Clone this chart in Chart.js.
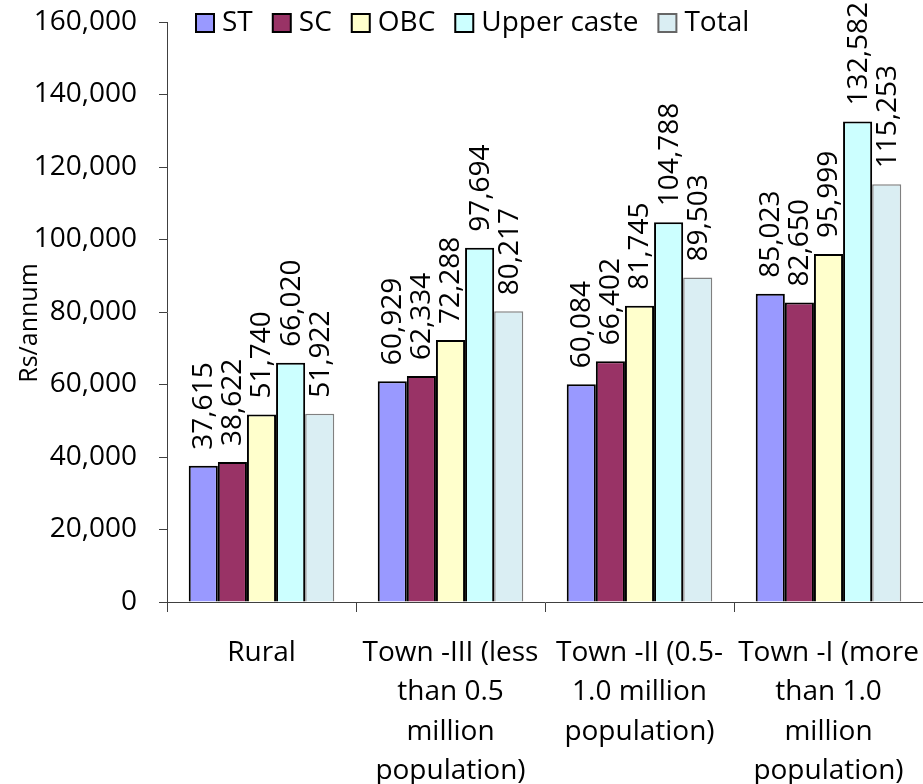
<!DOCTYPE html>
<html>
<head>
<meta charset="utf-8">
<script src="https://cdn.jsdelivr.net/npm/chart.js@4.4.1/dist/chart.umd.min.js"></script>
<style>
  body { margin: 0; background: #fff; }
  #wrap { width: 923px; height: 784px; }
</style>
</head>
<body>
<div id="wrap"><canvas id="incomeChart" width="923" height="784"></canvas></div>
<script>
var categories = [
    ['Rural'],
    ['Town -III (less', 'than 0.5', 'million', 'population)'],
    ['Town -II (0.5-', '1.0 million', 'population)'],
    ['Town -I (more', 'than 1.0', 'million', 'population)']
];
var seriesNames = ['ST', 'SC', 'OBC', 'Upper caste', 'Total'];
var stValues = [37615, 60929, 60084, 85023];
var scValues = [38622, 62334, 66402, 82650];
var obcValues = [51740, 72288, 81745, 95999];
var upperValues = [66020, 97694, 104788, 132582];
var totalValues = [51922, 80217, 89503, 115253];
var yTicks = [0, 20000, 40000, 60000, 80000, 100000, 120000, 140000, 160000];
var yTitle = 'Rs/annum';

var fills = ['#9999FF', '#993366', '#FFFFCC', '#CCFFFF', '#DAEEF3'];
var borders = ['#000000', '#000000', '#000000', '#000000', '#808080'];
var borderWidths = [2, 2, 2, 2, 1.5];
var allValues = [stValues, scValues, obcValues, upperValues, totalValues];

var FONT = 'Open Sans';

function fmt(v) { return v.toLocaleString('en-US'); }

var datasets = seriesNames.map(function (name, i) {
    return {
        label: name,
        data: allValues[i],
        backgroundColor: fills[i],
        borderColor: borders[i],
        borderWidth: borderWidths[i],
        categoryPercentage: 0.77,
        barPercentage: 1.0
    };
});

// rotated value labels above each bar
var valueLabels = {
    id: 'valueLabels',
    afterDatasetsDraw: function (chart) {
        var ctx = chart.ctx;
        ctx.save();
        ctx.font = '28px "' + FONT + '"';
        ctx.fillStyle = '#000';
        ctx.textAlign = 'left';
        ctx.textBaseline = 'middle';
        chart.data.datasets.forEach(function (ds, i) {
            chart.getDatasetMeta(i).data.forEach(function (bar, j) {
                ctx.save();
                ctx.translate(bar.x, bar.y - 16);
                ctx.rotate(-Math.PI / 2);
                ctx.fillText(fmt(ds.data[j]), 0, 1);
                ctx.restore();
            });
        });
        ctx.restore();
    }
};

// legend across the top of the plot + y axis title
var topLegend = {
    id: 'topLegend',
    afterDraw: function (chart) {
        var ctx = chart.ctx;
        ctx.save();
        ctx.font = '28px "' + FONT + '"';
        ctx.textBaseline = 'middle';
        ctx.textAlign = 'left';
        var x = 196, y = 23, box = 18;
        chart.data.datasets.forEach(function (ds) {
            ctx.fillStyle = ds.backgroundColor;
            ctx.fillRect(x, y - box / 2, box, box);
            ctx.lineWidth = 2;
            ctx.strokeStyle = ds.label === 'Total' ? '#666' : '#000';
            ctx.strokeRect(x, y - box / 2, box, box);
            ctx.fillStyle = '#000';
            ctx.fillText(ds.label, x + box + 8, y);
            x += box + 8 + ctx.measureText(ds.label).width + 20;
        });

        ctx.font = '25px "' + FONT + '"';
        ctx.textAlign = 'center';
        ctx.translate(30, 323);
        ctx.rotate(-Math.PI / 2);
        ctx.fillText(yTitle, 0, 0);
        ctx.restore();
    }
};

function noOverflow(scale) {
    scale.paddingLeft = 0;
    scale.paddingRight = 0;
    scale.paddingTop = 0;
    scale.paddingBottom = 0;
}

new Chart(document.getElementById('incomeChart'), {
    type: 'bar',
    data: { labels: categories, datasets: datasets },
    plugins: [valueLabels, topLegend],
    options: {
        responsive: false,
        animation: false,
        layout: { padding: { top: 22, right: 0, bottom: 0, left: 0 } },
        plugins: {
            legend: { display: false },
            tooltip: { enabled: false }
        },
        scales: {
            x: {
                offset: true,
                grid: { display: true, drawOnChartArea: false, tickLength: 10, color: '#404040', offset: true },
                border: { display: true, color: '#404040', width: 1 },
                ticks: {
                    color: '#000',
                    font: { family: FONT, size: 28, lineHeight: 1.41 },
                    padding: 21,
                    maxRotation: 0,
                    autoSkip: false
                },
                afterFit: function (scale) { scale.height = 182; noOverflow(scale); }
            },
            y: {
                min: 0,
                max: 160000,
                afterBuildTicks: function (scale) {
                    scale.ticks = yTicks.map(function (v) { return { value: v }; });
                },
                grid: { display: true, drawOnChartArea: false, tickLength: 8, color: '#404040' },
                border: { display: true, color: '#404040', width: 1 },
                ticks: {
                    color: '#000',
                    font: { family: FONT, size: 28 },
                    padding: 22,
                    callback: function (v) { return fmt(v); }
                },
                afterFit: function (scale) { scale.width = 167; noOverflow(scale); }
            }
        }
    }
});
</script>
</body>
</html>
